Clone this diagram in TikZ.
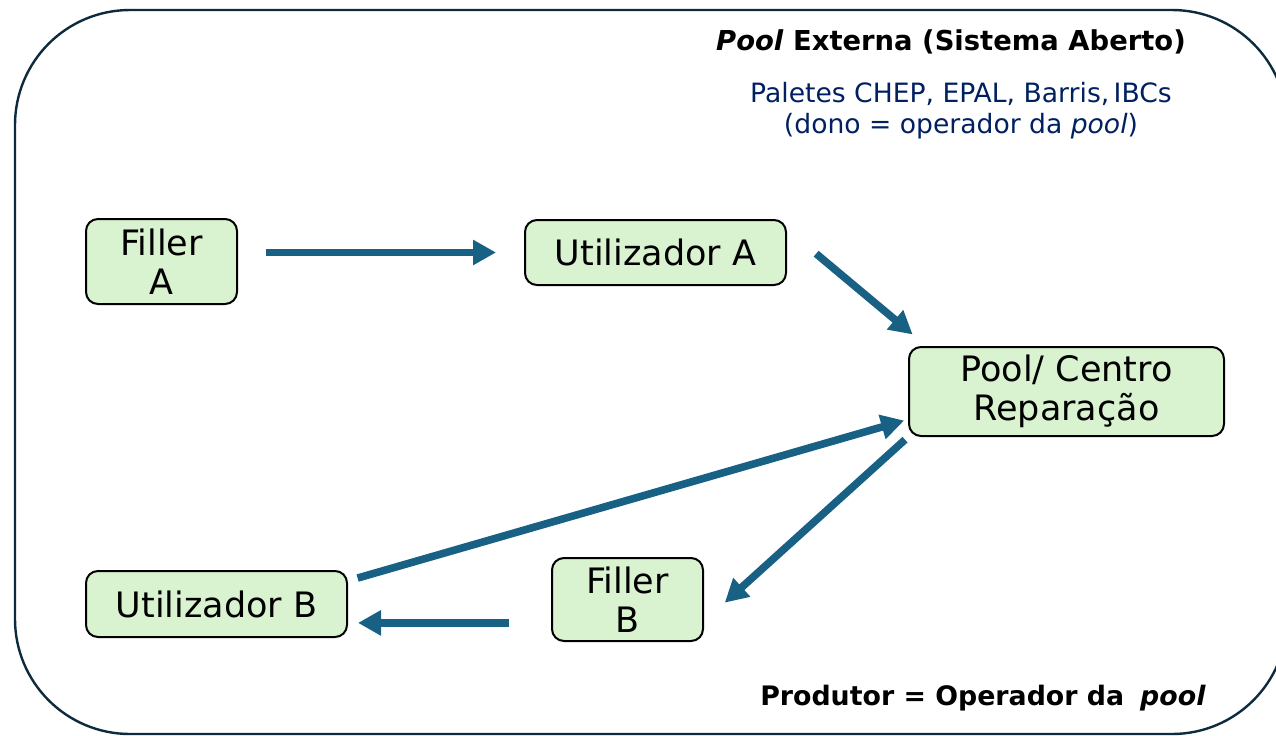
\documentclass[tikz,border=0pt]{standalone}
\usepackage{fontspec}
\setmainfont{DejaVu Sans}
\usetikzlibrary{arrows.meta, positioning}
\definecolor{boxgreen}{RGB}{217,242,208}
\definecolor{flowblue}{RGB}{24,96,132}
\definecolor{framenavy}{RGB}{14,43,62}
\definecolor{textnavy}{RGB}{0,32,96}
\tikzset{box/.style={draw,line width=1pt,fill=boxgreen,rounded corners=6pt,inner sep=0pt,
                     align=center,font=\fontsize{17.5}{19.5}\selectfont},
         flow/.style={draw=flowblue,line width=3.8pt,-{Triangle[length=11.5pt,width=12pt]}},
         frame/.style={draw=framenavy,line width=1.2pt,rounded corners=57.5pt}}

\begin{document}
\begin{tikzpicture}[x=0.5pt,y=-0.5pt]
        \useasboundingbox (0,0) rectangle (1276,735);
        \clip (0,0) rectangle (1276,735);
        \draw[frame](15,10) rectangle (1287,734);

        \node[font=\fontsize{13.7}{16}\selectfont\bfseries](title)at(951,42){\textit{Pool} Externa (Sistema Aberto)};
        \node[font=\fontsize{13.3}{15.5}\selectfont, text=textnavy, align=center](note)at(961,111)
            {Paletes CHEP, EPAL, Barris,\,IBCs\\(dono = operador da \textit{pool})};
        \node[font=\fontsize{13.4}{16}\selectfont\bfseries](owner)at(983,698){Produtor = Operador da\hspace{0.25em} \textit{pool}};

        \node[box, minimum width=75.5pt, minimum height=42.5pt](fA)at(161.5,261.5){Filler\\A};
        \node[box, minimum width=130.5pt, minimum height=32.5pt](uA)at(655.5,252.5){Utilizador A};
        \node[box, minimum width=157.5pt, minimum height=44.5pt](pc)at(1066.5,391.5){Pool/ Centro\\Reparação};
        \node[box, minimum width=75.5pt, minimum height=41.5pt](fB)at(627.5,599.5){Filler\\B};
        \node[box, minimum width=130.5pt, minimum height=33pt](uB)at(216.5,604){Utilizador B};

        \draw[flow, shorten <=14pt, shorten >=14pt](fA.east |- uA.west)--(uA.west);
        \draw[flow, shorten <=19pt, shorten >=9pt](uA.10)--(pc.162);
        \draw[flow, shorten <=2pt, shorten >=14pt](pc.south west)--(fB.-16);
        \draw[flow, shorten <=21pt, shorten >=5pt](fB.197)--(fB.197 -| uB.east);
        \draw[flow, shorten <=5pt, shorten >=2pt](uB.10)--(pc.190);
    \end{tikzpicture}
\end{document}
